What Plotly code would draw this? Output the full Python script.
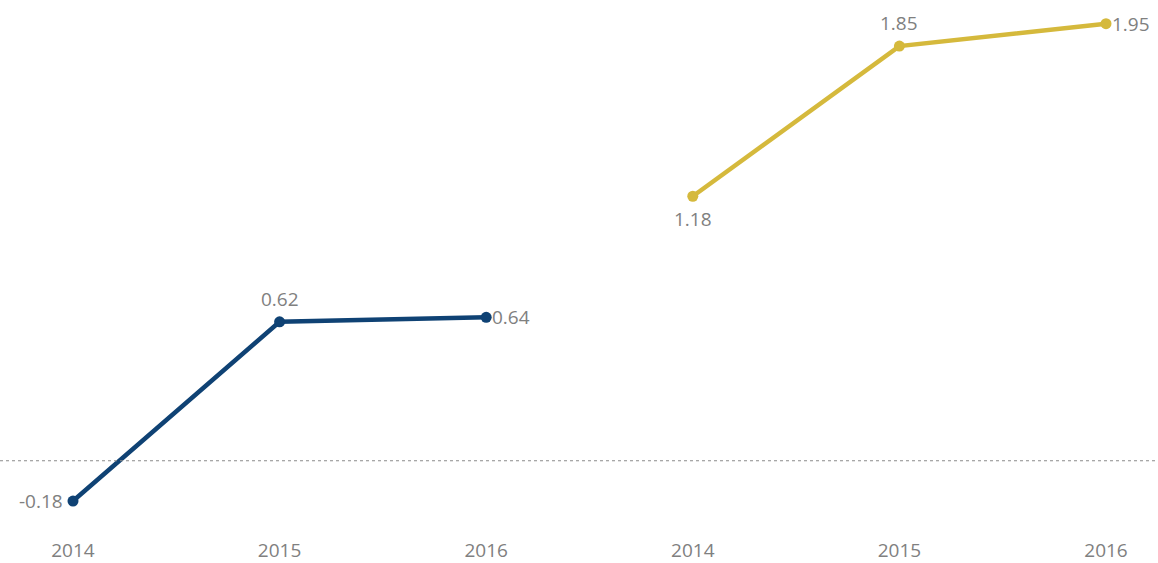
import plotly.graph_objects as go

years = ["2014", "2015", "2016"]
left_values = [-0.18, 0.62, 0.64]
right_values = [1.18, 1.85, 1.95]

left_color = "#0f4274"
right_color = "#d5b93c"
text_color = "#808080"
font_family = "Open Sans"

left_x = [0, 1, 2]
right_x = [3, 4, 5]

fig = go.Figure()

for xs, vals, color in [(left_x, left_values, left_color),
                        (right_x, right_values, right_color)]:
    fig.add_trace(go.Scatter(
        x=xs, y=vals,
        mode="lines+markers",
        line=dict(color=color, width=4.5),
        marker=dict(color=color, size=11),
        cliponaxis=False,
        hoverinfo="skip",
    ))

# value labels: (x, value, placement)
label_specs = [
    (left_x[0], left_values[0], "left"),
    (left_x[1], left_values[1], "above"),
    (left_x[2], left_values[2], "right"),
    (right_x[0], right_values[0], "below"),
    (right_x[1], right_values[1], "above"),
    (right_x[2], right_values[2], "right"),
]
offsets = {
    "left": dict(xanchor="right", yanchor="middle", xshift=-8, yshift=0),
    "right": dict(xanchor="left", yanchor="middle", xshift=4, yshift=0),
    "above": dict(xanchor="center", yanchor="middle", xshift=0, yshift=23),
    "below": dict(xanchor="center", yanchor="middle", xshift=0, yshift=-23),
}
for x, v, where in label_specs:
    fig.add_annotation(
        x=x, y=v, text=f"{v:.2f}", showarrow=False,
        font=dict(color=text_color, size=19, family=font_family),
        **offsets[where],
    )

# dotted zero reference line across the full width
fig.add_shape(
    type="line", xref="paper", yref="y",
    x0=0, x1=1, y0=0, y1=0,
    line=dict(color="#8a8a8a", width=1.2, dash="dot"),
)

fig.update_layout(
    width=1158, height=563,
    margin=dict(l=0, r=0, t=0, b=40),
    paper_bgcolor="white",
    plot_bgcolor="white",
    showlegend=False,
    xaxis=dict(
        range=[-0.3533, 5.2517],
        tickvals=left_x + right_x,
        ticktext=years + years,
        tickfont=dict(color=text_color, size=19, family=font_family),
        showgrid=False, zeroline=False, showline=False,
        ticks="outside", ticklen=12, tickcolor="rgba(0,0,0,0)",
    ),
    yaxis=dict(
        range=[-0.2689, 2.0556],
        showgrid=False, zeroline=False, showline=False,
        showticklabels=False,
    ),
)

fig.write_html("out.html")
